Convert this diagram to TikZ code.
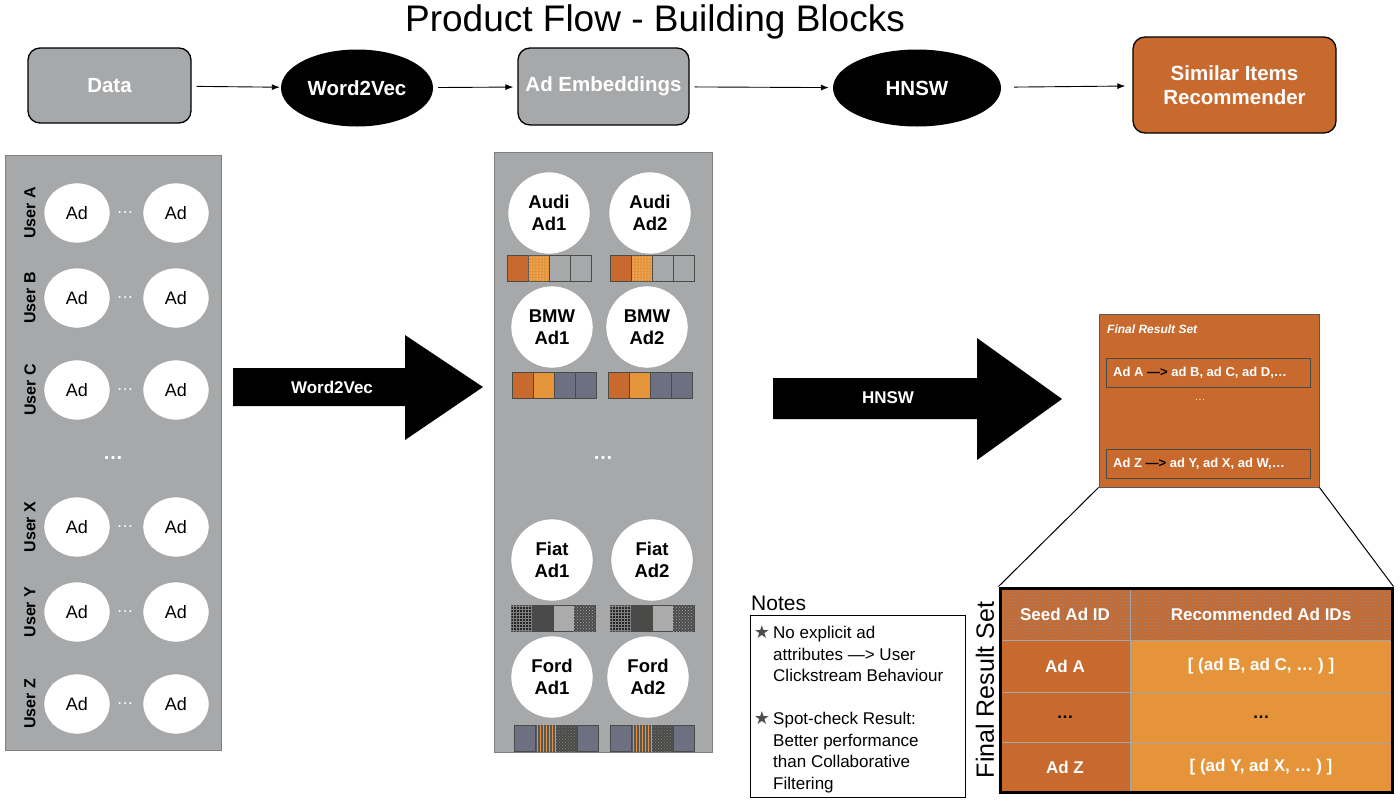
\documentclass[tikz,border=0pt]{standalone}
\usepackage{fontspec}
\setmainfont{Liberation Sans}
\newfontfamily\symfont{DejaVu Sans}
\usetikzlibrary{shapes.geometric,arrows.meta,patterns}
\definecolor{panelgrey}{HTML}{A6A8A9}
\definecolor{dorange}{HTML}{C8692D}
\definecolor{lorange}{HTML}{E6943A}
\definecolor{slate}{HTML}{6C7080}
\definecolor{dgrey}{HTML}{4A4A48}
\definecolor{lgrey}{HTML}{ABABAB}
\newcommand\fsz[2]{\fontsize{#1}{#2}\selectfont}
\newcommand\embbar[6]{%
  \draw[cell,#3] (#1,#2) rectangle ++(21,26);
  \draw[cell,#4] (#1+21,#2) rectangle ++(21,26);
  \draw[cell,#5] (#1+42,#2) rectangle ++(21,26);
  \draw[cell,#6] (#1+63,#2) rectangle ++(21,26);}
\tikzset{
  flowbox/.style={draw=black, line width=1.3pt, rounded corners=12pt, fill=panelgrey, text=white, font=\bfseries\fsz{20.5}{24}, align=center, inner sep=0pt},
  flowell/.style={ellipse, fill=black, text=white, font=\bfseries\fsz{20.5}{24}, inner sep=0pt},
  flowarrow/.style={-{Latex[length=8pt,width=6pt]}, line width=0.9pt},
  panel/.style={draw=gray, fill=panelgrey, inner sep=0pt, line width=0.8pt},
  adell/.style={ellipse, draw=gray!80, fill=white, minimum width=66pt, minimum height=60pt, inner sep=0pt, font=\fsz{18}{20}},
  userlbl/.style={rotate=90, font=\bfseries\fsz{16}{18}},
  smalldots/.style={text=white, font=\fsz{17}{17}},
  adcircle/.style={circle, draw=gray!80, fill=white, minimum size=82pt, inner sep=0pt, align=center, font=\bfseries\fsz{18.5}{22}},
  cell/.style={draw=dgrey, line width=0.7pt},
  bigarrow/.style={fill=black},
  biglbl/.style={text=white, font=\bfseries\fsz{17}{20}},
  tcell/.style={draw=gray!70, line width=0.6pt, inner sep=0pt, text=white, font=\bfseries\fsz{17}{20}},
  rowbox/.style={draw=dgrey, line width=0.8pt, fill=dorange, inner sep=0pt, minimum width=204pt, minimum height=29pt},
  rowtxt/.style={text=white, font=\bfseries\fsz{13}{15}, inner sep=0pt, anchor=west},
  notetxt/.style={font=\fsz{17}{21.5}, align=left, inner sep=0pt, anchor=north west},
  star/.style={font=\symfont\fsz{18}{18}, text=gray!60!black, inner sep=0pt}
}
\begin{document}
\begin{tikzpicture}[x=1pt,y=-1pt]
\useasboundingbox (0,0) rectangle (1400,801);

% title
\node[font=\fsz{37}{40}] (title) at (655,22) {Product Flow - Building Blocks};

% top flow
\node[flowbox, minimum width=163pt, minimum height=75pt] (data) at (109.5,85.5) {Data};
\node[flowell, minimum width=152pt, minimum height=77pt] (w2v) at (357,88) {Word2Vec};
\node[flowbox, minimum width=171pt, minimum height=77pt] (emb) at (603.5,86.5) {Ad Embeddings};
\node[flowell, minimum width=168pt, minimum height=77pt] (hnsw) at (917,88) {HNSW};
\node[flowbox, fill=dorange, minimum width=203pt, minimum height=96pt] (sir) at (1234.5,85) {Similar Items\\Recommender};
\draw[flowarrow, shorten <=5pt, shorten >=1pt] (data) -- (w2v);
\draw[flowarrow, shorten <=5pt, shorten >=4pt] (w2v) -- (emb);
\draw[flowarrow, shorten <=5pt, shorten >=4pt] (emb) -- (hnsw);
\draw[flowarrow, shorten <=13pt, shorten >=7pt] (hnsw) -- (sir);

% left panel
\node[panel, minimum width=216pt, minimum height=595pt] (lpanel) at (113,452.5) {};
\foreach \y/\u [count=\k] in {213/A,298/B,390/C,527/X,612/Y,704/Z}{
  \node[userlbl] (user\k) at (30,\y) {User \u};
  \node[adell] (adl\k) at (77,\y) {Ad};
  \node[adell] (adr\k) at (176,\y) {Ad};
  \node[smalldots] (dl\k) at (125,\y) {…};
}
\node[text=white, font=\bfseries\fsz{20}{20}] (ldots) at (113,458) {…};

% big arrow 1
\fill[bigarrow] (233,368) -- (405,368) -- (405,335) -- (483,387) -- (405,440) -- (405,406) -- (233,406) -- cycle;
\node[biglbl] (w2vlbl) at (332,387) {Word2Vec};

% middle panel
\node[panel, minimum width=218pt, minimum height=600pt] (mpanel) at (603,452) {};
\node[adcircle] (audi1) at (549,213) {Audi\\Ad1};
\node[adcircle] (audi2) at (650,213) {Audi\\Ad2};
\node[adcircle] (bmw1) at (552,327) {BMW\\Ad1};
\node[adcircle] (bmw2) at (647,327) {BMW\\Ad2};
\node[adcircle] (fiat1) at (552,560) {Fiat\\Ad1};
\node[adcircle] (fiat2) at (652,560) {Fiat\\Ad2};
\node[adcircle] (ford1) at (552,677) {Ford\\Ad1};
\node[adcircle] (ford2) at (648,677) {Ford\\Ad2};
\node[text=white, font=\bfseries\fsz{20}{20}] (mdots) at (603,458) {…};

\embbar{507}{255}{fill=dorange}{fill=lorange,postaction={pattern=dots,pattern color=white!80!lorange}}{fill=panelgrey}{fill=panelgrey}
\embbar{610}{255}{fill=dorange}{fill=lorange,postaction={pattern=dots,pattern color=white!80!lorange}}{fill=panelgrey}{fill=panelgrey}
\embbar{512}{372}{fill=dorange}{fill=lorange}{fill=slate}{fill=slate}
\embbar{608}{372}{fill=dorange}{fill=lorange}{fill=slate}{fill=slate}
\embbar{511}{605}{fill=black!85,postaction={pattern=grid,pattern color=gray}}{fill=dgrey}{fill=lgrey}{fill=gray!60!black,postaction={pattern=crosshatch dots,pattern color=gray!70}}
\embbar{610}{605}{fill=black!85,postaction={pattern=grid,pattern color=gray}}{fill=dgrey}{fill=lgrey}{fill=gray!60!black,postaction={pattern=crosshatch dots,pattern color=gray!70}}
\embbar{514}{725}{fill=slate}{fill=gray!70!black,postaction={pattern=vertical lines,pattern color=lorange}}{fill=dgrey,postaction={pattern=crosshatch dots,pattern color=gray}}{fill=slate}
\embbar{610}{725}{fill=slate}{fill=gray!70!black,postaction={pattern=vertical lines,pattern color=lorange}}{fill=dgrey,postaction={pattern=crosshatch dots,pattern color=gray}}{fill=slate}

% big arrow 2
\fill[bigarrow] (773,378) -- (977,378) -- (977,338) -- (1062,399) -- (977,460) -- (977,419) -- (773,419) -- cycle;
\node[biglbl] (hnswlbl) at (888,398) {HNSW};

% final result set box
\node[draw=gray!70!black, line width=0.8pt, fill=dorange, minimum width=220pt, minimum height=173pt, inner sep=0pt] (frs) at (1209,400.5) {};
\node[text=white, font=\bfseries\itshape\fsz{12}{14}, anchor=west, inner sep=0pt] (frstitle) at (1107,329) {Final Result Set};
\node[rowbox] (rowa) at (1208,372.5) {};
\node[rowtxt] (rowatxt) at (1113,373) {Ad A {\color{black}—>} ad B, ad C, ad D,…};
\node[text=white!75!lorange, font=\fsz{11}{11}] (frsdots) at (1200,400) {…};
\node[rowbox] (rowz) at (1208,463.5) {};
\node[rowtxt] (rowztxt) at (1113,464) {Ad Z {\color{black}—>} ad Y, ad X, ad W,…};

% table
\node[tcell, fill=dorange, postaction={pattern=crosshatch dots, pattern color=slate!80}, minimum width=130pt, minimum height=52pt] (h1) at (1065,614) {Seed Ad ID};
\node[tcell, fill=dorange, postaction={pattern=crosshatch dots, pattern color=slate!80}, minimum width=262pt, minimum height=52pt] (h2) at (1261,614) {Recommended Ad IDs};
\node[tcell, fill=dorange, minimum width=130pt, minimum height=52pt] (a1) at (1065,666) {Ad A};
\node[tcell, fill=lorange, minimum width=262pt, minimum height=52pt] (a2) at (1261,666) {[ (ad B, ad C, … ) ]};
\node[tcell, fill=dorange, minimum width=130pt, minimum height=50pt, text=black] (d1) at (1065,717) {…};
\node[tcell, fill=lorange, minimum width=262pt, minimum height=50pt, text=black] (d2) at (1261,717) {…};
\node[tcell, fill=dorange, minimum width=130pt, minimum height=50pt] (z1) at (1065,767) {Ad Z};
\node[tcell, fill=lorange, minimum width=262pt, minimum height=50pt] (z2) at (1261,767) {[ (ad Y, ad X, … ) ]};
\node[draw=black, line width=3pt, minimum width=392pt, minimum height=204pt, inner sep=0pt] (tbl) at (1196,690) {};
\node[rotate=90, font=\fsz{25}{28}] (tbllbl) at (985,690) {Final Result Set};
\draw[line width=1pt] (frs.south west) -- (tbl.north west);
\draw[line width=1pt] (frs.south east) -- (tbl.north east);

% notes
\node[font=\fsz{21}{24}, anchor=west, inner sep=0pt] (notes) at (751,603) {Notes};
\node[draw=black, line width=0.8pt, minimum width=215pt, minimum height=182pt, inner sep=0pt] (notesbox) at (857.5,706) {};
\node[star] (star1) at (762,632) {★};
\node[notetxt] (note1) at (773,626) {No explicit ad\\attributes —> User\\Clickstream Behaviour};
\node[star] (star2) at (762,718) {★};
\node[notetxt] (note2) at (773,712) {Spot-check Result:\\Better performance\\than Collaborative\\Filtering};
\end{tikzpicture}
\end{document}
